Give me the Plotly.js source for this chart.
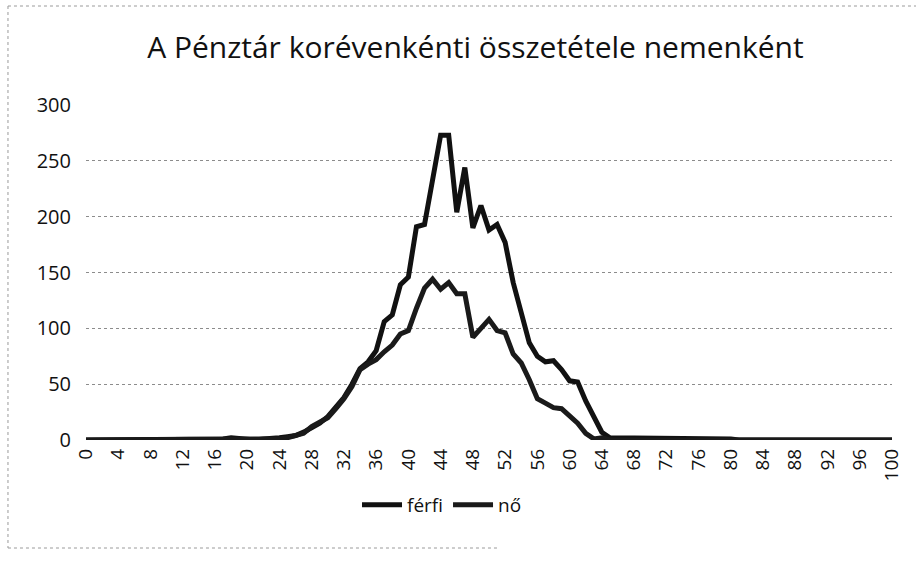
<!DOCTYPE html>
<html>
<head>
<meta charset="utf-8">
<script src="https://cdn.plot.ly/plotly-3.0.1.min.js"></script>
<style>html,body{margin:0;padding:0;background:#fff;}#chart{width:916px;height:568px;}</style>
</head>
<body>
<div id="chart"></div>
<script>
// Ages (categories 0..100)
const ages = [];
for (let a = 0; a <= 100; a++) ages.push(a);

const tickLabels = ["0","4","8","12","16","20","24","28","32","36","40","44","48","52","56","60","64","68","72","76","80","84","88","92","96","100"];
const tickAges = [0,4,8,12,16,20,24,28,32,36,40,44,48,52,56,60,64,68,72,76,80,84,88,92,96,100];

// férfi (ages 0..100)
const ferfi = [
  0,0,0,0,0,0,0,0,0,0,            // 0-9
  0,0,0,0,0,0,1,1,2,1,            // 10-19
  1,0,1,1,2,3,4,7,11,15,          // 20-29
  21,29,38,50,64,70,80,106,112,139, // 30-39
  146,191,193,233,273,273,204,244,190,210, // 40-49
  188,193,177,141,114,87,75,70,71,63, // 50-59
  53,52,35,20,7,2,2,1,1,1,        // 60-69
  1,1,1,1,1,1,1,1,1,1,            // 70-79
  1,0,0,0,0,0,0,0,0,0,            // 80-89
  0,0,0,0,0,0,0,0,0,0,            // 90-99
  0                               // 100
];

// nő (ages 0..100)
const no = [
  0,0,0,0,0,0,0,0,0,0,            // 0-9
  0,0,0,0,0,0,0,1,1,1,            // 10-19
  0,0,0,1,1,2,4,6,12,16,          // 20-29
  20,28,37,48,63,68,72,79,85,95,  // 30-39
  98,118,136,144,135,141,131,131,92,100, // 40-49
  108,98,96,77,69,54,37,33,29,28, // 50-59
  22,15,6,1,2,0,0,0,0,0,          // 60-69
  0,0,0,0,0,0,0,0,0,0,            // 70-79
  0,0,0,0,0,0,0,0,0,0,            // 80-89
  0,0,0,0,0,0,0,0,0,0,            // 90-99
  0                               // 100
];

const seriesNames = ["férfi", "nő"];
const titleText = "A Pénztár korévenkénti összetétele nemenként";

const FONT = "'Open Sans', 'Noto Sans', sans-serif";

const traces = [
  {x: ages, y: ferfi, name: seriesNames[0], type: "scatter", mode: "lines",
   line: {color: "#111111", width: 5}},
  {x: ages, y: no, name: seriesNames[1], type: "scatter", mode: "lines",
   line: {color: "#1a1a1a", width: 5}}
];

const border = {color: "#9a9a9a", width: 1, dash: "dot"};
const layout = {
  width: 916, height: 568,
  margin: {l: 86, r: 24, t: 105, b: 128},
  paper_bgcolor: "#ffffff", plot_bgcolor: "#ffffff",
  font: {family: FONT, color: "#111111"},
  title: {text: titleText, font: {family: FONT, size: 30, color: "#111"},
          x: 0.519, xref: "container", xanchor: "center",
          y: 0.917, yref: "container", yanchor: "middle"},
  xaxis: {range: [0, 100], tickmode: "array", tickvals: tickAges, ticktext: tickLabels,
          tickangle: -90, showgrid: false, zeroline: false, showline: false,
          ticks: "", ticklabelstandoff: 4,
          tickfont: {family: FONT, size: 19, color: "#111"}, fixedrange: true},
  yaxis: {range: [0, 300], dtick: 50, tick0: 0, showgrid: true,
          gridcolor: "#8c8c8c", griddash: "dot", gridwidth: 1,
          zeroline: false, showline: false, ticks: "",
          ticklabelstandoff: 14,
          tickfont: {family: FONT, size: 20, color: "#111"}, fixedrange: true},
  showlegend: true,
  legend: {orientation: "h", x: 0.4417, xanchor: "center", y: -0.194, yanchor: "middle",
           font: {family: FONT, size: 19, color: "#111"}, itemwidth: 40,
           bgcolor: "rgba(0,0,0,0)"},
  shapes: [
    {type: "line", xref: "paper", yref: "paper", x0: -0.0968, x1: 1.03, y0: 1.2955, y1: 1.2955, line: border},
    {type: "line", xref: "paper", yref: "paper", x0: -0.0968, x1: -0.0968, y0: 1.2955, y1: -0.3224, line: border},
    {type: "line", xref: "paper", yref: "paper", x0: -0.0968, x1: 0.5136, y0: -0.3224, y1: -0.3224, line: border}
  ]
};

Plotly.newPlot("chart", traces, layout, {displayModeBar: false, staticPlot: true});
</script>
</body>
</html>
